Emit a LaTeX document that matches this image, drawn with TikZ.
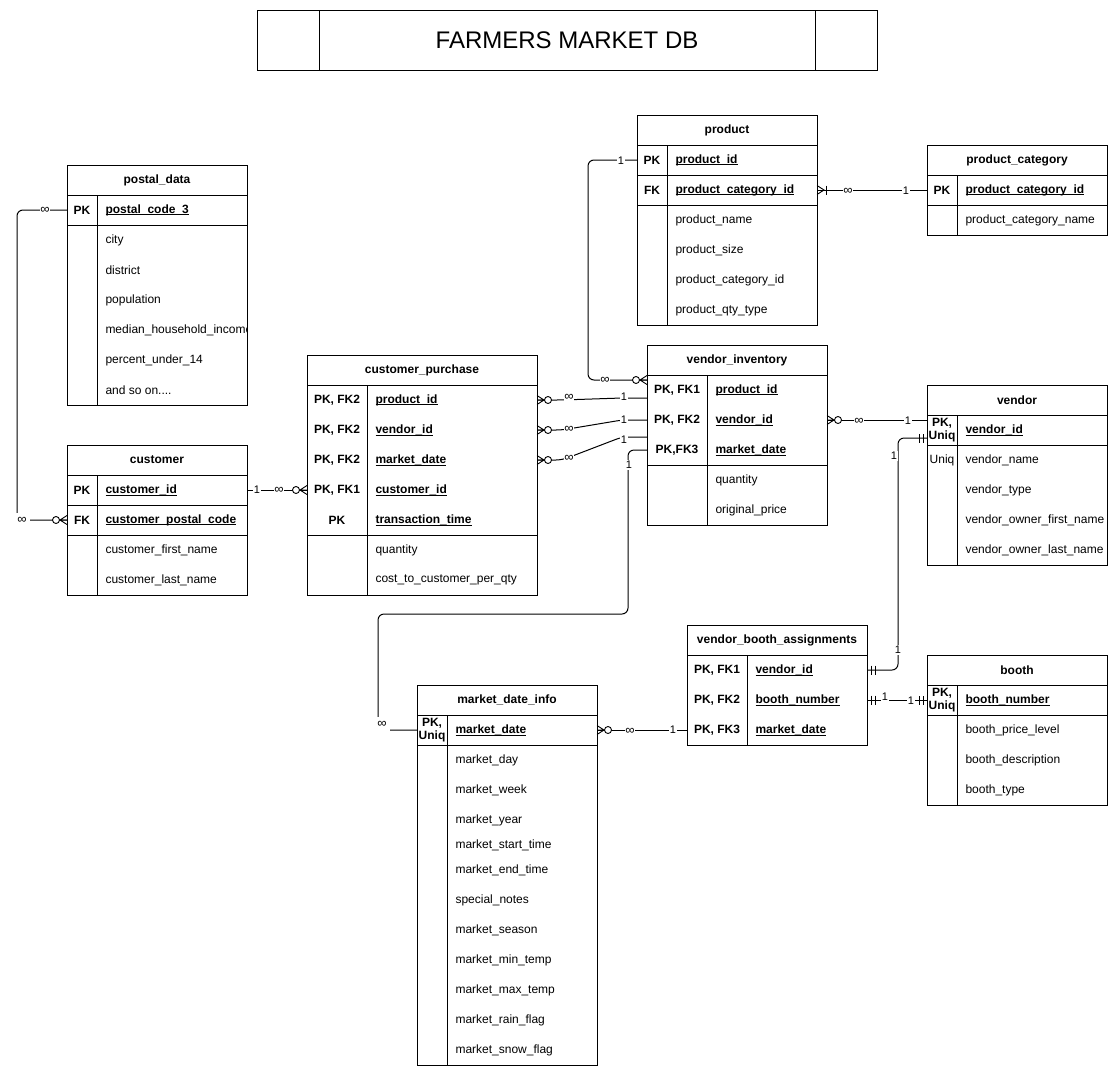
\documentclass[tikz,border=0pt]{standalone}
\usepackage{fontspec}
\setmainfont{Liberation Sans}
\usetikzlibrary{calc}
\newcommand{\ulx}[1]{\setbox0=\hbox{#1}\rlap{\rule[-2.2pt]{\wd0}{0.9pt}}\box0}
\tikzset{
  box/.style={draw, line width=1pt, anchor=north west, inner sep=0pt, outer sep=0pt},
  rowbox/.style={anchor=north west, minimum height=30pt, inner sep=0pt, outer sep=0pt},
  hdrt/.style={font=\fontsize{12}{14}\selectfont\bfseries, inner sep=0pt},
  keyt/.style={font=\fontsize{12}{12.5}\selectfont\bfseries, inner sep=0pt, align=center},
  fld/.style={anchor=west, inner sep=0pt, font=\fontsize{12}{14}\selectfont},
  lbl/.style={fill=white, inner sep=0.8pt, font=\fontsize{11}{12}\selectfont},
  inf/.style={fill=white, inner sep=0.8pt, font=\fontsize{13}{13}\selectfont},
  cornerinf/.style={fill=white, inner xsep=3pt, inner ysep=4pt, font=\fontsize{13}{13}\selectfont},
  conn/.style={draw, line width=1pt, rounded corners=6pt},
  zmany/.pic={\draw[line width=0.9pt] (0,4.5) -- (7,0) -- (0,-4.5) (0,0) -- (7,0);
              \draw[line width=0.9pt, fill=white] (11,0) circle[radius=3.5pt];},
  onemany/.pic={\draw[line width=0.9pt] (0,4.5) -- (7,0) -- (0,-4.5); \draw[line width=0.9pt] (9,-4.5) -- (9,4.5);},
  mone/.pic={\draw[line width=0.9pt] (4,-4.5) -- (4,4.5) (8,-4.5) -- (8,4.5);},
}
% table frame: name, x, y, w, h, keyw, title
\newcommand{\ertable}[7]{%
  \node[box, minimum width=#4pt, minimum height=#5pt] (#1) at (#2,#3) {};
  \node[hdrt] (#1-h) at ($(#1.north)+(0,15)$) {#7};
  \draw ($(#1.north west)+(0,30)$) -- ($(#1.north east)+(0,30)$);
  \draw (#2+#6,#3+30) -- (#2+#6,#3+#5);
}
\newcommand{\hsep}[2]{\draw ($(#1.north west)+(0,#2)$) -- ($(#1.north east)+(0,#2)$);}
% key row: name, x, y-top, w, keyw, key, field
\newcommand{\krow}[7]{%
  \node[rowbox, minimum width=#4pt] (#1) at (#2,#3) {};
  \node[keyt] (#1-k) at ($(#1.west)+(#5/2,0)$) {#6};
  \node[fld] (#1-f) at ($(#1.west)+(#5+8,0)$) {\bfseries\ulx{#7}};
}
\begin{document}
\begin{tikzpicture}[x=1pt, y=-1pt, line width=1pt]
\fill[white] (0,0) rectangle (1118,1076);
\useasboundingbox (0,0) rectangle (1118,1076);

% ---------- title ----------
\node[box, minimum width=620pt, minimum height=60pt] (title) at (257,10) {};
\draw (319,10) -- (319,70) (815,10) -- (815,70);
\node[inner sep=0pt, font=\fontsize{24}{26}\selectfont] (titletext) at (title.center) {FARMERS MARKET DB};

% ---------- postal_data ----------
\ertable{pd}{67}{165}{180}{240}{30}{postal\_data}
\hsep{pd}{60}
\krow{pd-pk}{67}{195}{180}{30}{PK}{postal\_code\_3}
\begin{scope}
\clip (67,165) rectangle (246.5,405);
\node[fld] (pd-a1) at (105,240) {city};
\node[fld] (pd-a2) at (105,270) {district};
\node[fld] (pd-a3) at (105,300) {population};
\node[fld] (pd-a4) at (105,330) {median\_household\_income};
\node[fld] (pd-a5) at (105,360) {percent\_under\_14};
\node[fld] (pd-a6) at (105,390) {and so on....};
\end{scope}

% ---------- customer ----------
\ertable{cu}{67}{445}{180}{150}{30}{customer}
\hsep{cu}{60}\hsep{cu}{90}
\krow{cu-pk}{67}{475}{180}{30}{PK}{customer\_id}
\krow{cu-fk}{67}{505}{180}{30}{FK}{customer\_postal\_code}
\node[fld] (cu-a1) at (105,550) {customer\_first\_name};
\node[fld] (cu-a2) at (105,580) {customer\_last\_name};

% ---------- customer_purchase ----------
\ertable{cp}{307}{355}{230}{240}{60}{customer\_purchase}
\hsep{cp}{180}
\krow{cp-1}{307}{385}{230}{60}{PK, FK2}{product\_id}
\krow{cp-2}{307}{415}{230}{60}{PK, FK2}{vendor\_id}
\krow{cp-3}{307}{445}{230}{60}{PK, FK2}{market\_date}
\krow{cp-4}{307}{475}{230}{60}{PK, FK1}{customer\_id}
\krow{cp-5}{307}{505}{230}{60}{PK}{transaction\_time}
\node[fld] (cp-a1) at (375,550) {quantity};
\node[fld] (cp-a2) at (375,580) {cost\_to\_customer\_per\_qty};

% ---------- product ----------
\ertable{pr}{637}{115}{180}{210}{30}{product}
\hsep{pr}{60}\hsep{pr}{90}
\krow{pr-pk}{637}{145}{180}{30}{PK}{product\_id}
\krow{pr-fk}{637}{175}{180}{30}{FK}{product\_category\_id}
\node[fld] (pr-a1) at (675,220) {product\_name};
\node[fld] (pr-a2) at (675,250) {product\_size};
\node[fld] (pr-a3) at (675,280) {product\_category\_id};
\node[fld] (pr-a4) at (675,310) {product\_qty\_type};

% ---------- product_category ----------
\ertable{pc}{927}{145}{180}{90}{30}{product\_category}
\hsep{pc}{60}
\krow{pc-pk}{927}{175}{180}{30}{PK}{product\_category\_id}
\node[fld] (pc-a1) at (965,220) {product\_category\_name};

% ---------- vendor_inventory ----------
\ertable{vi}{647}{345}{180}{180}{60}{vendor\_inventory}
\hsep{vi}{120}
\krow{vi-1}{647}{375}{180}{60}{PK, FK1}{product\_id}
\krow{vi-2}{647}{405}{180}{60}{PK, FK2}{vendor\_id}
\krow{vi-3}{647}{435}{180}{60}{PK,FK3}{market\_date}
\node[fld] (vi-a1) at (715,480) {quantity};
\node[fld] (vi-a2) at (715,510) {original\_price};

% ---------- vendor ----------
\ertable{ve}{927}{385}{180}{180}{30}{vendor}
\hsep{ve}{60}
\krow{ve-pk}{927}{415}{180}{30}{PK,\\Uniq}{vendor\_id}
\node[inner sep=0pt, font=\fontsize{12}{14}\selectfont] (ve-u) at (942,460) {Uniq};
\node[fld] (ve-a1) at (965,460) {vendor\_name};
\node[fld] (ve-a2) at (965,490) {vendor\_type};
\node[fld] (ve-a3) at (965,520) {vendor\_owner\_first\_name};
\node[fld] (ve-a4) at (965,550) {vendor\_owner\_last\_name};

% ---------- vendor_booth_assignments ----------
\ertable{vba}{687}{625}{180}{120}{60}{vendor\_booth\_assignments}
\krow{vba-1}{687}{655}{180}{60}{PK, FK1}{vendor\_id}
\krow{vba-2}{687}{685}{180}{60}{PK, FK2}{booth\_number}
\krow{vba-3}{687}{715}{180}{60}{PK, FK3}{market\_date}

% ---------- booth ----------
\ertable{bo}{927}{655}{180}{150}{30}{booth}
\hsep{bo}{60}
\krow{bo-pk}{927}{685}{180}{30}{PK,\\Uniq}{booth\_number}
\node[fld] (bo-a1) at (965,730) {booth\_price\_level};
\node[fld] (bo-a2) at (965,760) {booth\_description};
\node[fld] (bo-a3) at (965,790) {booth\_type};

% ---------- market_date_info ----------
\ertable{mdi}{417}{685}{180}{380}{30}{market\_date\_info}
\hsep{mdi}{60}
\krow{mdi-pk}{417}{715}{180}{30}{PK,\\Uniq}{market\_date}
\foreach \t/\yy in {market\_day/760, market\_week/790, market\_year/820,
  market\_start\_time/845, market\_end\_time/870, special\_notes/900,
  market\_season/930, market\_min\_temp/960, market\_max\_temp/990,
  market\_rain\_flag/1020, market\_snow\_flag/1050}
  {\node[fld] (mdi-a\yy) at (455,\yy) {\t};}

% ================= connectors =================
% postal_data -- customer
\path[conn] (pd-pk.west) -- ($(pd-pk.west)+(-50,0)$) |- (cu-fk.west);
% customer -- customer_purchase
\path[conn] (cu-pk.east) -- (cp-4.west);
% product -- vendor_inventory
\path[conn] (pr-pk.west) -- ($(pr-pk.west)+(-49,0)$) |- ($(vi-1.west)+(0,-10)$);
% product -- product_category
\path[conn] (pr-fk.east) -- (pc-pk.west);
% customer_purchase -- vendor_inventory
\path[conn] (cp-1.east) -- ++(25,0) -- ($(vi-1.west)+(-25,8)$) -- ($(vi-1.west)+(0,8)$);
\path[conn] (cp-2.east) -- ++(25,0) -- ($(vi-2.west)+(-25,0)$) -- (vi-2.west);
\path[conn] (cp-3.east) -- ++(25,0) -- ($(vi-3.west)+(-25,-13)$) -- ($(vi-3.west)+(0,-13)$);
% vendor_inventory -- market_date_info
\path[conn] (vi-3.west) -- ($(vi-3.west)+(-19,0)$) |- ($(mdi-pk.west)+(-39,-116)$) |- (mdi-pk.west);
% vendor_inventory -- vendor
\path[conn] (vi-2.east) -- ($(ve-pk.west)+(0,-10)$);
% vendor -- vendor_booth_assignments
\path[conn] ($(ve-pk.west)+(0,8)$) -- ($(ve-pk.west)+(-29,8)$) |- (vba-1.east);
% vendor_booth_assignments -- booth
\path[conn] (vba-2.east) -- (bo-pk.west);
% market_date_info -- vendor_booth_assignments
\path[conn] (mdi-pk.east) -- (vba-3.west);

% ---------- end markers ----------
\pic[rotate=180] at (cu-fk.west) {zmany};
\pic[rotate=180] at (cp-4.west) {zmany};
\pic[rotate=180] at ($(vi-1.west)+(0,-10)$) {zmany};
\pic at (pr-fk.east) {onemany};
\pic at (cp-1.east) {zmany};
\pic at (cp-2.east) {zmany};
\pic at (cp-3.east) {zmany};
\pic at (vi-2.east) {zmany};
\pic[rotate=180] at ($(ve-pk.west)+(0,8)$) {mone};
\pic at (vba-1.east) {mone};
\pic at (vba-2.east) {mone};
\pic[rotate=180] at (bo-pk.west) {mone};
\pic at (mdi-pk.east) {zmany};

% ---------- cardinality labels ----------
\node[inf] (l1a) at (45,210) {∞};
\node[cornerinf] (l1b) at (22,520) {∞};
\node[lbl] (l2a) at (257,490) {1};
\node[inf] (l2b) at (279,490) {∞};
\node[lbl] (l3a) at (621,161) {1};
\node[inf] (l3b) at (605,380) {∞};
\node[inf] (l4a) at (848,191) {∞};
\node[lbl] (l4b) at (906,191) {1};
\node[inf] (l5a) at (569,397) {∞};
\node[lbl] (l5b) at (624,397) {1};
\node[inf] (l6a) at (569,429) {∞};
\node[lbl] (l6b) at (624,420) {1};
\node[inf] (l7a) at (569,458) {∞};
\node[lbl] (l7b) at (624,440) {1};
\node[lbl] (l8a) at (629,465) {1};
\node[cornerinf] (l8b) at (382,724) {∞};
\node[inf] (l9a) at (859,421) {∞};
\node[lbl] (l9b) at (908,421) {1};
\node[lbl] (l10a) at (894,456) {1};
\node[lbl] (l10b) at (898,650) {1};
\node[lbl] (l11a) at (885,697) {1};
\node[lbl] (l11b) at (911,701) {1};
\node[inf] (l12a) at (630,731) {∞};
\node[lbl] (l12b) at (673,730) {1};
\end{tikzpicture}
\end{document}
